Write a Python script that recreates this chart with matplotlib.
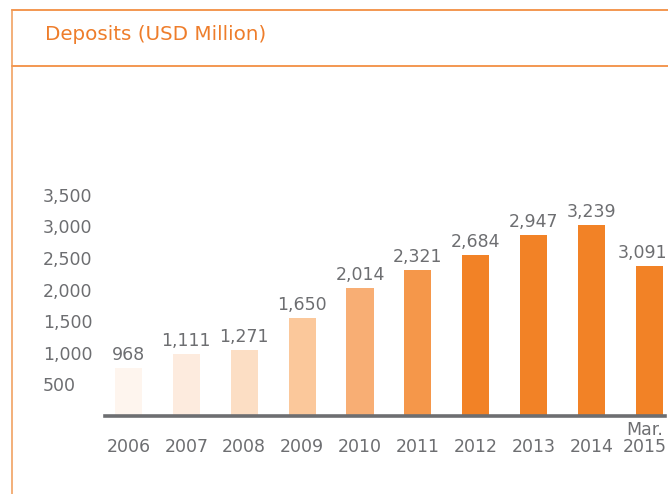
import matplotlib
matplotlib.use("Agg")
import matplotlib.pyplot as plt
from matplotlib.lines import Line2D
from matplotlib.transforms import ScaledTranslation

plt.rcParams['font.family'] = ['DejaVu Sans']

# data
years = ['2006', '2007', '2008', '2009', '2010', '2011', '2012', '2013', '2014', '2015']
bar_heights = [760, 980, 1045, 1550, 2030, 2315, 2545, 2865, 3020, 2375]
value_labels = ['968', '1,111', '1,271', '1,650', '2,014', '2,321', '2,684', '2,947', '3,239', '3,091']
bar_colors = ['#FEF5EE', '#FDEBDE', '#FCDEC4', '#FBC89B', '#F8AE74', '#F5974A',
              '#F28226', '#F28226', '#F28226', '#F28226']
yticks = [500, 1000, 1500, 2000, 2500, 3000, 3500]
ytick_labels = ['500', '1,000', '1,500', '2,000', '2,500', '3,000', '3,500']

grey = '#6D6E71'
orange = '#EE7D2B'

W, H = 668, 494
fig = plt.figure(figsize=(W / 100, H / 100), dpi=100)

# frame lines
fig.add_artist(Line2D([11.5 / W, 1], [1 - 10.5 / H, 1 - 10.5 / H], color='#F07A22', lw=1.1))
fig.add_artist(Line2D([11.5 / W, 1], [1 - 66 / H, 1 - 66 / H], color='#F07A22', lw=1.1))
fig.add_artist(Line2D([11.5 / W, 11.5 / W], [0, 1 - 10.5 / H], color='#F09A55', lw=1.1))

fig.text(45 / W, 1 - 35 / H, 'Deposits (USD Million)', color=orange, fontsize=14.3,
         ha='left', va='center')

ax = fig.add_axes([105 / W, (H - 416) / H, 560 / W, 236 / H])
x = list(range(len(years)))
ax.bar(x, bar_heights, width=0.47, color=bar_colors)
ax.set_xlim(-0.406, 9.27)
ax.set_ylim(0, 236 / 0.0632)

for s in ['top', 'right', 'left']:
    ax.spines[s].set_visible(False)
ax.spines['bottom'].set_color(grey)
ax.spines['bottom'].set_linewidth(2.6)

ax.set_yticks(yticks)
ax.set_yticklabels(ytick_labels)
ax.tick_params(axis='y', length=0, pad=44.6, labelsize=12.5, labelcolor=grey)
for lab in ax.get_yticklabels():
    lab.set_horizontalalignment('left')

ax.set_xticks(x)
ax.set_xticklabels(years)
ax.tick_params(axis='x', length=0, pad=16, labelsize=12.5, labelcolor=grey)
# last label sits a bit left so it stays inside the picture
last = ax.get_xticklabels()[-1]
last.set_transform(last.get_transform() + ScaledTranslation(-0.05, 0, fig.dpi_scale_trans))
ax.annotate('Mar.', xy=(x[-1], 0), xycoords=('data', 'axes fraction'),
            xytext=(-3.6, -10), textcoords='offset points', ha='center', va='center',
            fontsize=12.5, color=grey, annotation_clip=False)

for i, (h, lab) in enumerate(zip(bar_heights, value_labels)):
    dx = -5 if i == len(years) - 1 else 0
    ax.annotate(lab, xy=(i, h), xytext=(dx, 3), textcoords='offset points',
                ha='center', va='bottom', fontsize=12.5, color=grey, annotation_clip=False)

fig.savefig('out.png', dpi=100)
